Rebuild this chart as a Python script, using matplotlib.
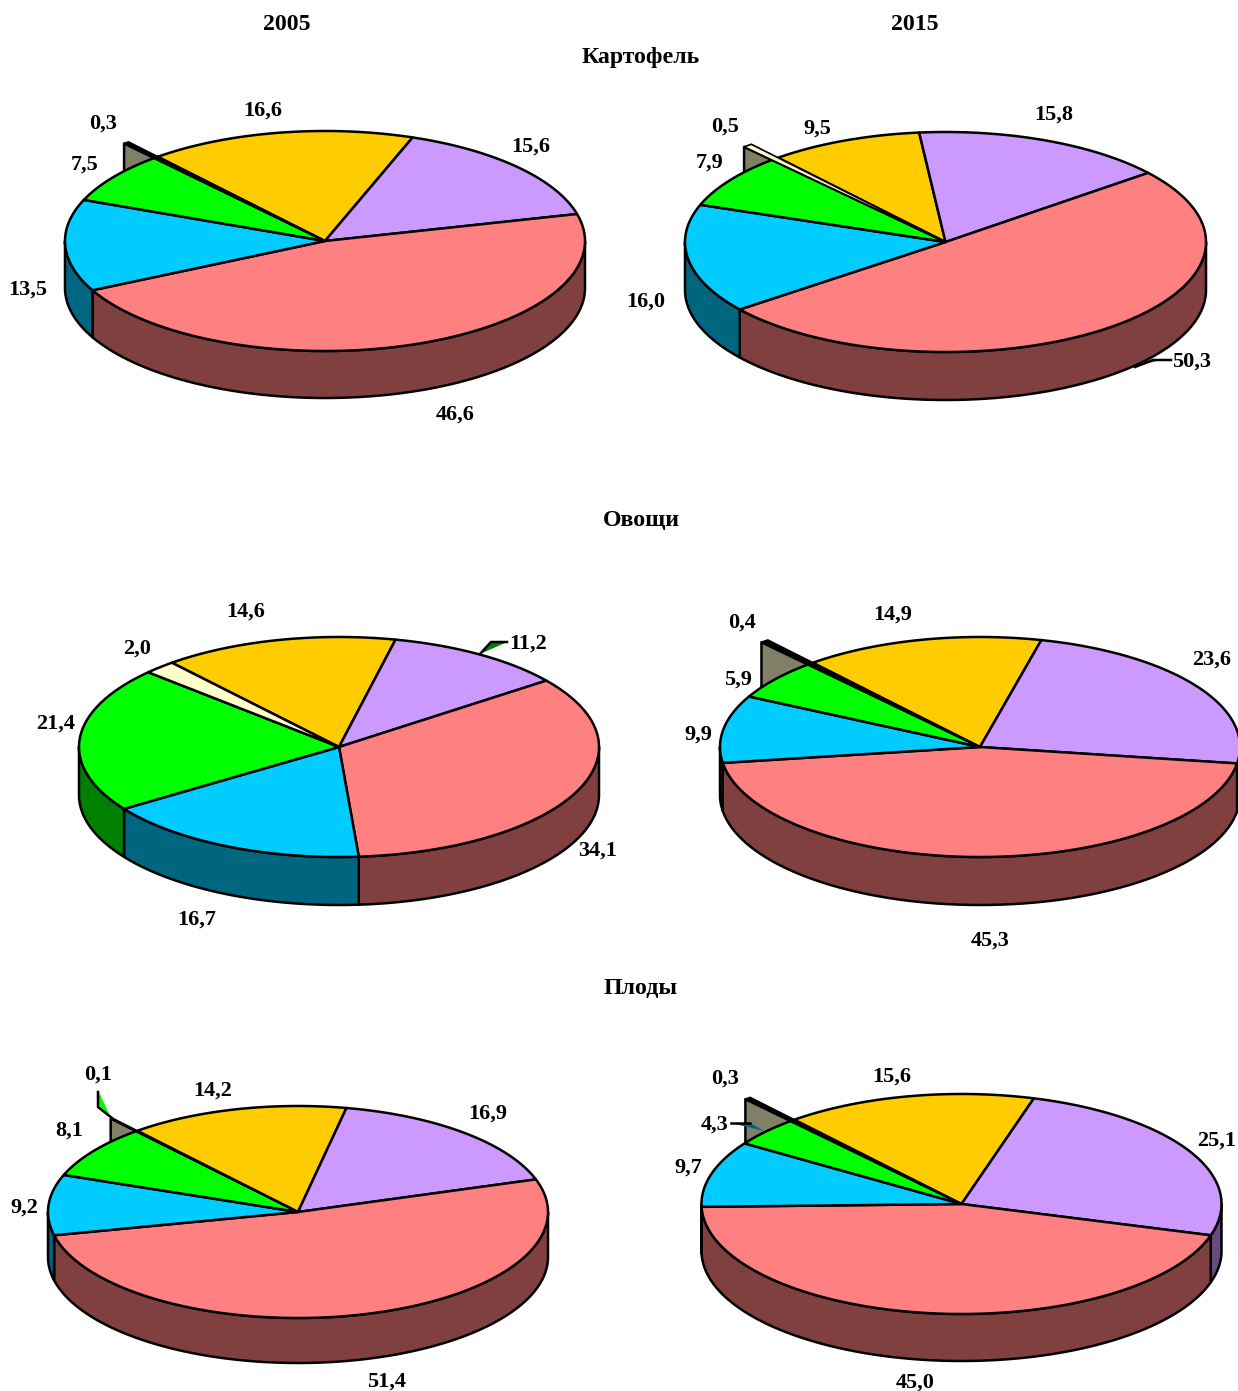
import numpy as np
import matplotlib
matplotlib.use("Agg")
import matplotlib.pyplot as plt
from matplotlib.patches import Polygon

plt.rcParams['font.family'] = ['Liberation Serif', 'DejaVu Serif']

# slice order, clockwise from the first-slice angle
potato_2005 = [16.6, 15.6, 46.6, 13.5, 7.5, 0.3]
potato_2015 = [9.5, 15.8, 50.3, 16.0, 7.9, 0.5]
veg_2005 = [14.6, 11.2, 34.1, 16.7, 21.4, 2.0]
veg_2015 = [14.9, 23.6, 45.3, 9.9, 5.9, 0.4]
fruit_2005 = [14.2, 16.9, 51.4, 9.2, 8.1, 0.1]
fruit_2015 = [15.6, 25.1, 45.0, 9.7, 4.3, 0.3]

top_colors = ['#FFCC00', '#CC99FF', '#FF8080', '#00CCFF', '#00FF00', '#FFFFCC']
side_colors = ['#806600', '#664C80', '#804040', '#006680', '#008000', '#808066']
FIRST_ANGLE = 130.0
W, H = 1238, 1391
LW = 1.8

fig = plt.figure(figsize=(W / 100, H / 100), dpi=100)
ax = fig.add_axes([0, 0, 1, 1])
ax.set_xlim(0, W)
ax.set_ylim(H, 0)
ax.axis('off')


def ell(cx, cy, rx, ry, t, r=1.0):
    t = np.radians(t)
    return cx + r * rx * np.cos(t), cy - r * ry * np.sin(t)


def pie3d(values, cx, cy, rx, ry, depth, explode, thin_fill, label_pos):
    v = np.array(values, float)
    spans = v / v.sum() * 360
    a = FIRST_ANGLE
    edges = []
    for s in spans:
        edges.append((a, a - s))
        a -= s
    edges[-1] = (edges[-1][0], FIRST_ANGLE - 360)

    # grey wall of the pulled-out last slice
    if explode > 1:
        st, en = edges[-1]
        ax_, ay_ = ell(cx, cy, rx, ry, st, explode)
        low = cy - ry * np.sqrt(max(0, 1 - ((ax_ - cx) / rx) ** 2))
        ax.add_patch(Polygon([(cx, cy), (ax_, ay_), (ax_, low)], closed=True,
                             fc=side_colors[5], ec='black', lw=LW, zorder=1,
                             joinstyle='round'))

    # front side walls
    for (st, en), col in zip(edges, side_colors):
        lo, hi = max(en, -180), min(st, 0)
        if hi <= lo:
            continue
        ts = np.linspace(lo, hi, 120)
        xs, ys = ell(cx, cy, rx, ry, ts)
        pts = list(zip(xs, ys)) + list(zip(xs[::-1], ys[::-1] + depth))
        ax.add_patch(Polygon(pts, closed=True, fc=col, ec='black', lw=LW,
                             zorder=2, joinstyle='round'))

    # top faces
    for i, ((st, en), col) in enumerate(zip(edges, top_colors)):
        if i == 5 and explode > 1:
            p1 = ell(cx, cy, rx, ry, st, explode)
            p2 = ell(cx, cy, rx, ry, en, explode)
            ax.add_patch(Polygon([(cx, cy), p1, p2], closed=True, fc=thin_fill,
                                 ec='black', lw=LW * 0.7, zorder=4, joinstyle='round'))
            continue
        ts = np.linspace(st, en, 300)
        xs, ys = ell(cx, cy, rx, ry, ts)
        pts = [(cx, cy)] + list(zip(xs, ys))
        ax.add_patch(Polygon(pts, closed=True, fc=col, ec='black', lw=LW,
                             zorder=3, joinstyle='round'))

    for val, (x, y) in zip(values, label_pos):
        ax.text(x, y + 1.5, f'{val:.1f}'.replace('.', ','), ha='center', va='center',
                fontsize=16, fontweight='bold', color='black', zorder=6)


pie3d(potato_2005, 325, 241, 260, 110, 47, 1.176, 'black',
      [(263, 109), (531, 145), (455, 413), (28, 288), (85, 163), (103, 122)])
pie3d(potato_2015, 945.5, 242, 260.5, 110, 48, 1.16, '#FFFFCC',
      [(817, 127), (1054, 113), (1192, 360), (646, 300), (710, 161), (725, 125)])
pie3d(veg_2005, 339, 747, 260, 110, 48, 1.0, '#FFFFCC',
      [(246, 610), (528, 642), (598, 849), (197, 918), (56, 722), (137, 647)])
pie3d(veg_2015, 980, 747, 260, 110, 48, 1.27, 'black',
      [(893, 613), (1212, 658), (990, 939), (698, 733), (738, 678), (742, 621)])
pie3d(fruit_2005, 298, 1212, 250, 106, 45, 1.157, 'black',
      [(213, 1089), (488, 1112), (387, 1380), (24, 1206), (69, 1129), (98, 1073)])
pie3d(fruit_2015, 961.5, 1204, 260, 110, 47, 1.265, 'black',
      [(892, 1075), (1217, 1139), (915, 1381), (688, 1166), (715, 1123), (725, 1077)])

# leader lines with their thin coloured slivers
leaders = [
    ([(507, 642), (491, 642), (480, 654)], [(491, 642), (505, 643), (480, 654)], '#008000'),
    ([(1171, 360), (1153, 360), (1135, 367)], [(1153, 360), (1160, 360), (1135, 367)], '#804040'),
    ([(731, 1123), (750, 1123)], [(735, 1124), (752, 1124), (764, 1131)], '#006680'),
    ([(98, 1092), (98, 1107), (112, 1118)], [(99, 1092), (99, 1106), (110, 1116)], '#00FF00'),
]
for line, sliver, col in leaders:
    ax.add_patch(Polygon(sliver, closed=True, fc=col, ec='none', zorder=5))
    xs, ys = zip(*line)
    ax.plot(xs, ys, color='black', lw=LW, zorder=5, solid_joinstyle='round')

titles = [('2005', 287, 22), ('2015', 915, 22), ('Картофель', 641, 55),
          ('Овощи', 641, 519), ('Плоды', 641, 986)]
for s, x, y in titles:
    ax.text(x, y + 2, s, ha='center', va='center', fontsize=17.2, fontweight='bold',
            color='black')

fig.savefig('out.png', dpi=100, facecolor='white')
